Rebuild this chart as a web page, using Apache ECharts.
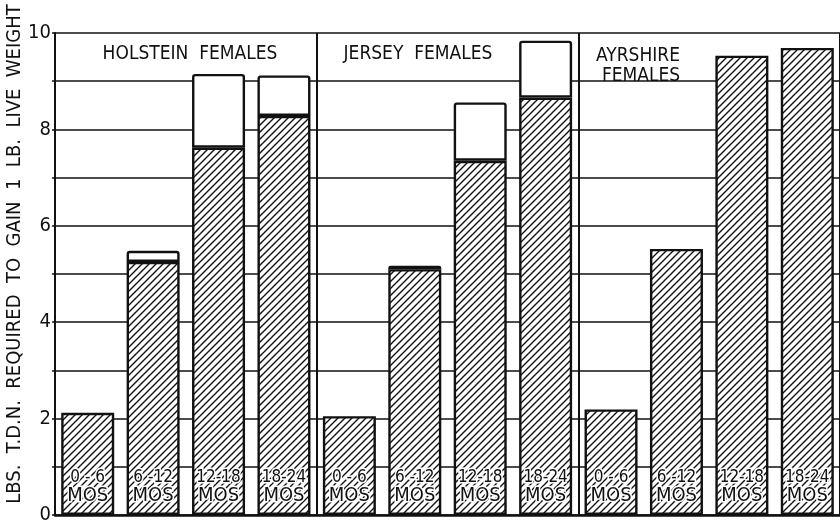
<!DOCTYPE html>
<html>
<head>
<meta charset="utf-8">
<script src="https://cdn.jsdelivr.net/npm/echarts@6/dist/echarts.min.js"></script>
<style>
  html, body { margin: 0; padding: 0; background: #fff; }
  #main { width: 840px; height: 525px; }
</style>
</head>
<body>
<div id="main"></div>
<script>
// breeds and age classes
var breeds = ['HOLSTEIN', 'JERSEY', 'AYRSHIRE'];
var ages = ['0 - 6', '6 -12', '12-18', '18-24'];

// hatched part of each bar (lbs. T.D.N.)
var holsteinHatched = [2.12, 5.25, 7.62, 8.28];
var jerseyHatched = [2.05, 5.10, 7.35, 8.66];
var ayrshireHatched = [2.19, 5.52, 9.53, 9.69];

// full height of each bar (hatched + white top)
var holsteinTotal = [2.12, 5.48, 9.15, 9.12];
var jerseyTotal = [2.05, 5.17, 8.56, 9.84];
var ayrshireTotal = [2.19, 5.52, 9.53, 9.69];

var yTicks = [0, 2, 4, 6, 8, 10];

window.onload = function () {
  var chart = echarts.init(document.getElementById('main'));

  // category list, one per bar
  var categories = [];
  breeds.forEach(function (b) {
    ages.forEach(function (a) { categories.push(b + ' ' + a); });
  });

  var hatched = holsteinHatched.concat(jerseyHatched, ayrshireHatched);
  var totals = holsteinTotal.concat(jerseyTotal, ayrshireTotal);
  // white top only where the bar has one
  var whiteTop = totals.map(function (t, i) {
    var d = +(t - hatched[i]).toFixed(2);
    return d > 0 ? d : '-';
  });

  // diagonal hatching ////
  var pat = document.createElement('canvas');
  pat.width = 7; pat.height = 7;
  var ctx = pat.getContext('2d');
  ctx.fillStyle = '#fff';
  ctx.fillRect(0, 0, 7, 7);
  ctx.strokeStyle = '#111';
  ctx.lineWidth = 1.4;
  ctx.beginPath();
  ctx.moveTo(-1, 8); ctx.lineTo(8, -1);
  ctx.moveTo(-1, 1); ctx.lineTo(1, -1);
  ctx.moveTo(6, 8); ctx.lineTo(8, 6);
  ctx.stroke();

  var font = '"DejaVu Sans Condensed", "DejaVu Sans", sans-serif';

  var option = {
    backgroundColor: '#fff',
    animation: false,
    grid: { left: 55, top: 33, bottom: 5, width: 793 },
    xAxis: {
      type: 'category',
      data: categories,
      axisLabel: { show: false },
      axisTick: { show: false },
      axisLine: { show: true, lineStyle: { color: '#111', width: 2.5 } },
      splitLine: {
        show: true,
        interval: function (index) { return index % 4 === 0; },
        lineStyle: { color: '#111', width: 2 }
      }
    },
    yAxis: {
      type: 'value',
      min: 0,
      max: 10,
      interval: 1,
      axisLine: { show: true, lineStyle: { color: '#111', width: 2 } },
      axisTick: { show: true, length: 3, lineStyle: { color: '#111', width: 1.5 } },
      axisLabel: {
        margin: 4,
        fontFamily: font,
        fontSize: 20,
        color: '#111',
        formatter: function (v) { return yTicks.indexOf(v) >= 0 ? String(v) : ''; }
      },
      splitLine: { lineStyle: { color: '#111', width: 1.5 } }
    },
    series: [{
      type: 'bar',
      stack: 'tdn',
      data: hatched,
      barWidth: 53,
      itemStyle: {
        color: { image: pat, repeat: 'repeat' },
        borderColor: '#111',
        borderWidth: 2.4
      },
      label: {
        show: true,
        position: 'insideBottom',
        distance: 9,
        formatter: function (p) {
          return '{a|' + ages[p.dataIndex % 4] + '}\n{b|MOS}';
        },
        rich: {
          a: { fontFamily: font, fontSize: 17, lineHeight: 17, color: '#111',
               textBorderColor: '#fff', textBorderWidth: 3 },
          b: { fontFamily: font, fontSize: 20, lineHeight: 20, color: '#111',
               textBorderColor: '#fff', textBorderWidth: 3 }
        }
      }
    }, {
      type: 'bar',
      stack: 'tdn',
      data: whiteTop,
      barWidth: 53,
      itemStyle: {
        color: '#fff',
        borderColor: '#111',
        borderWidth: 2.4,
        borderRadius: [2, 2, 0, 0]
      }
    }],
    graphic: [{
      type: 'text',
      x: 15, y: 254, rotation: Math.PI / 2,
      style: {
        text: 'LBS.  T.D.N.  REQUIRED  TO  GAIN  1  LB.  LIVE  WEIGHT',
        font: '20px ' + font,
        fill: '#111',
        align: 'center',
        verticalAlign: 'middle'
      }
    }, {
      type: 'text', x: 190, y: 54,
      style: { text: 'HOLSTEIN  FEMALES', font: '19px ' + font, fill: '#111',
               align: 'center', verticalAlign: 'middle' }
    }, {
      type: 'text', x: 418, y: 54,
      style: { text: 'JERSEY  FEMALES', font: '19px ' + font, fill: '#111',
               align: 'center', verticalAlign: 'middle' }
    }, {
      type: 'text', x: 638, y: 56,
      style: { text: 'AYRSHIRE', font: '19px ' + font, fill: '#111',
               align: 'center', verticalAlign: 'middle' }
    }, {
      type: 'text', x: 641, y: 76,
      style: { text: 'FEMALES', font: '19px ' + font, fill: '#111',
               align: 'center', verticalAlign: 'middle' }
    }]
  };

  chart.setOption(option);
};
</script>
</body>
</html>
